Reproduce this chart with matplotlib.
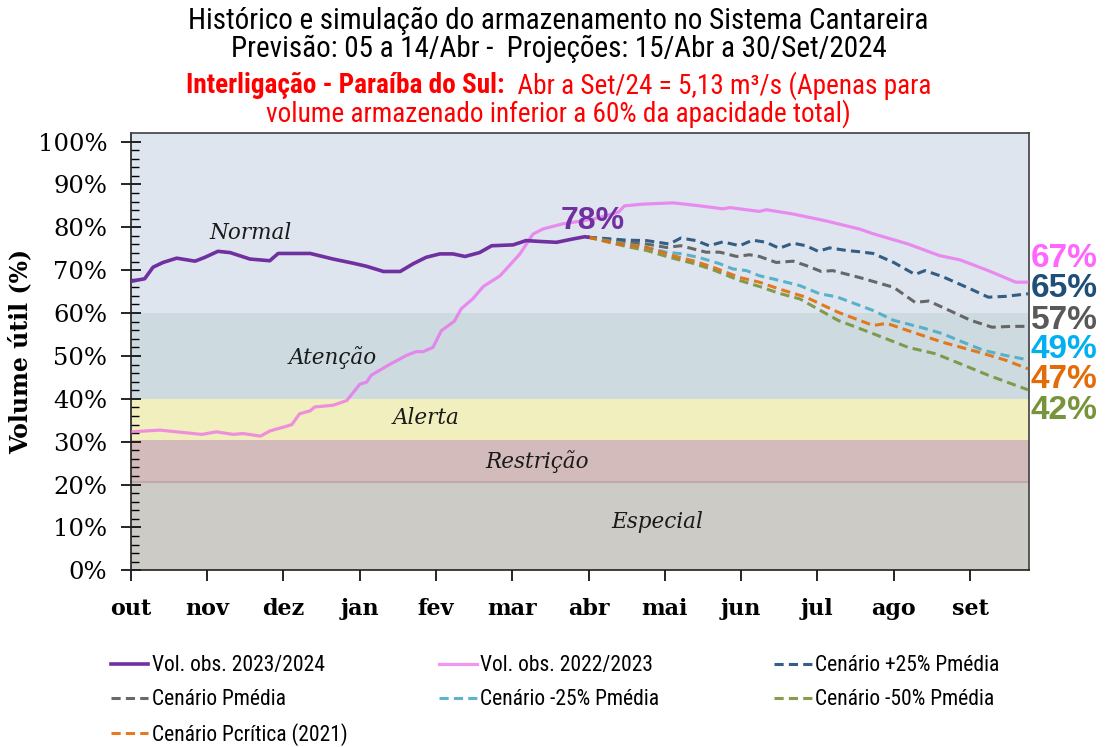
#!/usr/bin/env python3

import matplotlib
matplotlib.use('Agg')
import matplotlib.pyplot as plt
from matplotlib import font_manager

# month tick labels (x axis in "month" units, out = 0)
months = ['out', 'nov', 'dez', 'jan', 'fev', 'mar', 'abr',
          'mai', 'jun', 'jul', 'ago', 'set']

# storage stages (lower limits, %)
band_names = ['Especial', 'Restrição', 'Alerta', 'Atenção', 'Normal']
band_limits = [0, 20.5, 30.5, 40, 60, 102]

# observed 2023/2024
obs_2324_x = [0.00, 0.18, 0.29, 0.42, 0.60, 0.84, 0.97, 1.14, 1.30, 1.56,
              1.82, 1.93, 2.35, 2.65, 2.92, 3.09, 3.31, 3.53, 3.70, 3.87,
              4.05, 4.22, 4.38, 4.57, 4.73, 5.01, 5.18, 5.36, 5.58, 5.80,
              5.95, 5.99]
obs_2324_y = [67.4, 68.0, 70.7, 71.8, 72.8, 72.1, 73.0, 74.4, 74.1, 72.6,
              72.2, 73.9, 73.9, 72.6, 71.6, 70.9, 69.7, 69.7, 71.5, 73.0,
              73.8, 73.8, 73.2, 74.1, 75.7, 75.9, 76.9, 76.7, 76.5, 77.3,
              77.8, 77.7]

# observed 2022/2023
obs_2223_x = [0.00, 0.38, 0.60, 0.93, 1.12, 1.34, 1.47, 1.70, 1.82, 2.00,
              2.11, 2.21, 2.35, 2.41, 2.65, 2.83, 2.92, 3.00, 3.09, 3.15,
              3.39, 3.61, 3.74, 3.83, 3.96, 4.07, 4.24, 4.33, 4.48, 4.62,
              4.84, 5.10, 5.27, 5.40, 5.66, 6.06, 6.39, 6.47, 6.71, 7.11,
              7.46, 7.76, 7.85, 8.24, 8.33, 8.68, 9.11, 9.55, 9.73, 10.19,
              10.60, 10.87, 11.24, 11.60, 11.76]
obs_2223_y = [32.3, 32.7, 32.3, 31.7, 32.3, 31.7, 31.9, 31.3, 32.5, 33.4,
              34.0, 36.5, 37.2, 38.1, 38.5, 39.6, 41.6, 43.4, 43.9, 45.5,
              48.0, 50.1, 51.0, 51.0, 52.0, 55.9, 58.1, 61.0, 63.3, 66.2,
              68.7, 73.8, 78.4, 79.6, 80.8, 81.9, 83.5, 85.0, 85.4, 85.7,
              85.0, 84.3, 84.6, 83.7, 84.1, 83.1, 81.5, 79.6, 78.5, 76.1,
              73.4, 72.4, 69.9, 67.2, 67.2]

# projections
p25_x = [5.99, 6.50, 6.76, 7.06, 7.21, 7.41, 7.58, 7.76, 7.98, 8.15, 8.33,
         8.50, 8.68, 8.85, 9.01, 9.16, 9.38, 9.55, 9.73, 10.00, 10.28,
         10.41, 10.64, 11.01, 11.24, 11.47, 11.76]
p25_y = [77.7, 77.0, 76.9, 76.1, 77.5, 76.9, 75.7, 76.6, 75.7, 77.0, 76.5,
         75.1, 76.3, 75.7, 74.4, 75.2, 74.6, 74.3, 73.9, 71.8, 69.0,
         69.9, 68.5, 65.6, 63.7, 63.9, 64.5]

pmed_x = [5.99, 6.50, 6.76, 7.02, 7.21, 7.54, 7.72, 7.94, 8.11, 8.24, 8.46,
          8.68, 8.85, 9.05, 9.20, 9.42, 9.55, 10.00, 10.28, 10.46, 10.73,
          11.01, 11.29, 11.56, 11.76]
pmed_y = [77.7, 76.5, 76.1, 75.3, 75.7, 74.2, 74.2, 73.2, 73.6, 73.2, 71.8,
          72.1, 71.1, 69.7, 69.9, 68.9, 68.3, 66.0, 62.5, 62.8, 60.6,
          58.3, 56.7, 56.9, 56.9]

m25_x = [5.99, 6.50, 6.76, 7.02, 7.23, 7.46, 7.72, 7.89, 8.07, 8.24, 8.41,
         8.59, 8.77, 9.03, 9.25, 9.73, 10.00, 10.37, 10.64, 10.91, 11.18,
         11.47, 11.76]
m25_y = [77.7, 76.1, 75.3, 74.2, 73.8, 72.9, 71.5, 70.3, 69.9, 68.7, 68.0,
         67.2, 66.4, 64.5, 63.8, 60.6, 58.3, 56.6, 55.2, 53.2, 51.3,
         50.1, 49.1]

m50_x = [5.99, 6.50, 6.76, 7.06, 7.37, 7.63, 7.98, 8.24, 8.50, 8.77, 9.27,
         9.73, 10.19, 10.55, 10.87, 11.24, 11.76]
m50_y = [77.7, 75.5, 74.6, 73.0, 71.6, 70.1, 67.6, 66.2, 64.6, 63.3, 58.3,
         55.2, 52.0, 50.5, 48.2, 45.5, 42.1]

pcrit_x = [5.99, 6.41, 6.76, 7.06, 7.37, 7.63, 7.98, 8.24, 8.50, 8.85, 9.27,
           9.73, 9.91, 10.19, 10.64, 11.11, 11.47, 11.76]
pcrit_y = [77.7, 76.1, 75.3, 73.6, 72.2, 70.7, 68.3, 67.2, 65.6, 63.7, 60.2,
           57.1, 57.6, 55.9, 53.2, 50.9, 49.0, 47.0]

# end-of-period labels (text, colour, label height in %)
end_labels = ['67%', '65%', '57%', '49%', '47%', '42%']
end_colors = ['#ff66ff', '#1f4e79', '#595959', '#00b0f0', '#e36c09', '#77933c']
end_label_y = [72.7, 65.7, 58.3, 51.5, 44.5, 37.3]

# pick a narrow sans (Calibri-like) if one is installed
_avail = {f.name for f in font_manager.fontManager.ttflist}
_narrow = [n for n in ('Liberation Sans Narrow', 'DejaVu Sans Condensed',
                       'Roboto Condensed', 'Open Sans Condensed')
           if n in _avail]
SANS = _narrow[:1] + ['DejaVu Sans']
NARROW_OK = bool(_narrow)
SERIF = ['DejaVu Serif']
BOLD_SANS = ['Liberation Sans', 'DejaVu Sans']


def draw_title(fig):
    """Four-line header, last two in red with a bold lead."""
    big = 21 if NARROW_OK else 16.7
    red_size = 19.6 if NARROW_OK else 16.5
    fig.text(0.505, 0.972, 'Histórico e simulação do armazenamento no Sistema Cantareira',
             ha='center', va='center', fontsize=big, family=SANS)
    fig.text(0.505, 0.935, 'Previsão: 05 a 14/Abr -  Projeções: 15/Abr a 30/Set/2024',
             ha='center', va='center', fontsize=big, family=SANS)

    red = '#ff0000'
    t1 = fig.text(0, 0.886, 'Interligação - Paraíba do Sul:', ha='left', va='center',
                  fontsize=red_size, family=SANS, weight='bold', color=red)
    t2 = fig.text(0, 0.886, '  Abr a Set/24 = 5,13 m³/s (Apenas para', ha='left',
                  va='center', fontsize=red_size, family=SANS, color=red)
    fig.text(0.505, 0.848, 'volume armazenado inferior a 60% da apacidade total)',
             ha='center', va='center', fontsize=red_size, family=SANS, color=red)

    renderer = fig.canvas.get_renderer()
    w1 = t1.get_window_extent(renderer).width / fig.bbox.width
    w2 = t2.get_window_extent(renderer).width / fig.bbox.width
    x0 = 0.505 - (w1 + w2) / 2
    t1.set_x(x0)
    t2.set_x(x0 + w1)


def main():
    fig = plt.figure(figsize=(11.06, 7.47), dpi=100)
    ax = fig.add_axes([0.1184, 0.2365, 0.8117, 0.5855])

    # stage bands
    band_colors = ['#cccbc6', '#d4bbbb', '#f1efbe', '#cddbe0', '#dee5ef']
    for lo, hi, c in zip(band_limits[:-1], band_limits[1:], band_colors):
        ax.axhspan(lo, hi, color=c, lw=0, zorder=0)
    ax.axhline(band_limits[1], color='#bfaaa8', lw=1.5, zorder=0.5)

    band_pos = [(6.9, 11.2), (5.32, 25.4), (3.87, 35.5), (2.65, 49.7), (1.57, 78.7)]
    for name, (bx, by) in zip(band_names, band_pos):
        ax.text(bx, by, name, ha='center', va='center', fontsize=15.5,
                style='italic', family=SERIF, color='#1a1a1a')

    ax.plot(obs_2223_x, obs_2223_y, color='#ee55ee', alpha=0.62, lw=2.3,
            label='Vol. obs. 2022/2023', zorder=3)

    dash = (3, 1.7)
    scen = [
        (p25_x, p25_y, '#1f4e79', 'Cenário +25% Pmédia'),
        (pmed_x, pmed_y, '#595959', 'Cenário Pmédia'),
        (m25_x, m25_y, '#4bacc6', 'Cenário -25% Pmédia'),
        (m50_x, m50_y, '#77933c', 'Cenário -50% Pmédia'),
        (pcrit_x, pcrit_y, '#e46c0a', 'Cenário Pcrítica (2021)'),
    ]
    for sx, sy, c, lab in scen:
        ax.plot(sx, sy, color=c, lw=2.2, dashes=dash, alpha=0.9,
                label=lab, zorder=4)

    ax.plot(obs_2324_x, obs_2324_y, color='#7030a0', lw=2.6,
            label='Vol. obs. 2023/2024', zorder=5)

    ax.text(6.05, 81.5, '78%', ha='center', va='center', fontsize=23,
            weight='bold', family=BOLD_SANS, color='#7030a0', zorder=6)

    for lab, c, ly in zip(end_labels, end_colors, end_label_y):
        ax.text(11.80, ly, lab, ha='left', va='center', fontsize=24,
                weight='bold', family=BOLD_SANS, color=c, clip_on=False)

    # axes
    ax.set_xlim(0, 11.77)
    ax.set_ylim(0, 102)
    ax.set_xticks(range(len(months)))
    ax.set_xticklabels(months, fontsize=16, weight='bold', family=SERIF)
    ax.set_yticks(range(0, 101, 10))
    ax.set_yticklabels(['{}%'.format(v) for v in range(0, 101, 10)],
                       fontsize=17.5, family=SERIF)
    ax.set_yticks(range(0, 101, 2), minor=True)
    ax.tick_params(axis='x', direction='out', length=8, width=1.2, pad=12)
    ax.tick_params(axis='y', which='major', direction='inout', length=14,
                   width=1.2, pad=10)
    ax.tick_params(axis='y', which='minor', direction='in', length=6, width=1)
    for sp in ax.spines.values():
        sp.set_color('#404040')
        sp.set_linewidth(1.2)
    ax.spines['left'].set_color('#202020')
    ax.spines['bottom'].set_color('#202020')

    ax.set_ylabel('Volume útil (%)', fontsize=17, weight='bold', family=SERIF,
                  labelpad=4)

    # legend in three columns, placed by hand
    handles, labels = ax.get_legend_handles_labels()
    lookup = dict(zip(labels, handles))
    cols = [
        ['Vol. obs. 2023/2024', 'Cenário Pmédia', 'Cenário Pcrítica (2021)'],
        ['Vol. obs. 2022/2023', 'Cenário -25% Pmédia'],
        ['Cenário +25% Pmédia', 'Cenário -50% Pmédia'],
    ]
    fsize = 15.5 if NARROW_OK else 13.5
    for col, xpos in zip(cols, [0.100, 0.397, 0.700]):
        fig.legend([lookup[l] for l in col], col, loc='upper left',
                   bbox_to_anchor=(xpos, 0.123), frameon=False,
                   prop={'family': SANS, 'size': fsize}, handlelength=1.75,
                   handletextpad=0.15, labelspacing=0.6, borderpad=0,
                   borderaxespad=0)

    draw_title(fig)

    fig.savefig('out.png', dpi=100)


if __name__ == "__main__":
    main()
